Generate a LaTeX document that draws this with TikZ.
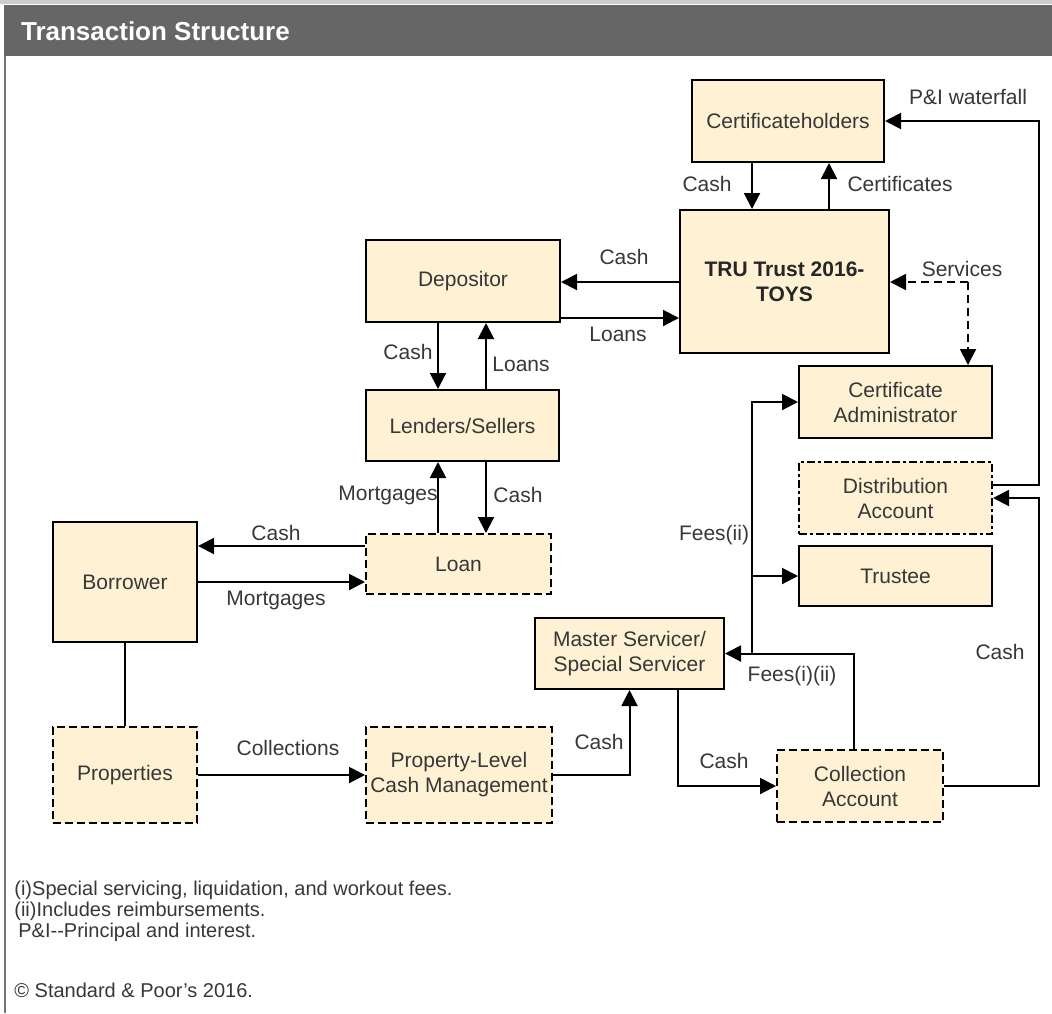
\documentclass[tikz,border=0pt]{standalone}
\usepackage{fontspec}
\setmainfont{Liberation Sans}
\usetikzlibrary{positioning,arrows.meta,calc}
\definecolor{boxfill}{RGB}{255,242,212}
\definecolor{headgray}{RGB}{102,102,102}
\definecolor{txtgray}{RGB}{55,55,55}

\begin{document}
\begin{tikzpicture}[x=0.5pt, y=-0.5pt,
        party/.style={
            rectangle, draw=black, line width=1pt, fill=boxfill,
            text=txtgray, font=\fontsize{10.5}{12.5}\selectfont,
            align=center, inner sep=2pt
          },
        account/.style={party, dash pattern=on 4pt off 2pt},
        acctdot/.style={party, dash pattern=on 4pt off 1.5pt on 1.5pt off 1.5pt},
        flow/.style={-{Triangle[length=8pt,width=8pt]}, line width=1pt, draw=black},
        servicelink/.style={flow, dash pattern=on 4pt off 2.5pt},
        plain/.style={line width=1pt, draw=black},
        tag/.style={font=\fontsize{10.5}{12.5}\selectfont, text=txtgray, inner sep=1pt},
        footnote/.style={font=\fontsize{10}{12}\selectfont, text=txtgray, anchor=west, inner sep=0pt},
      ]
      \useasboundingbox (0,0) rectangle (1052,1013);

      % Header bar and frame
      \fill[black!20] (0,0) rectangle (1052,4);
      \fill[headgray] (4,5) rectangle (1052,56);
      \draw[black!55, line width=1pt] (5,56) -- (5,1013);
      \node [font=\bfseries\fontsize{13}{15}\selectfont, text=white, anchor=west] (title) at (14,31) {Transaction Structure};

      % Trust and holders
      \node [party, minimum width=96pt, minimum height=41pt] (cert) at (788,121) {Certificateholders};
      \node [party, minimum width=104.5pt, minimum height=71.5pt, font=\bfseries\fontsize{10.5}{12.5}\selectfont, text=black!85] (trust) at (784.5,281.5) {TRU Trust 2016-\\TOYS};

      % Left chain
      \node [party, minimum width=97pt, minimum height=41pt] (depositor) at (463,281) {Depositor};
      \node [party, minimum width=96.5pt, minimum height=35.5pt] (lenders) at (462.5,425.5) {Lenders/Sellers};
      \node [account, minimum width=92.5pt, minimum height=30pt] (loan) at (458.5,564) {Loan};
      \node [party, minimum width=72pt, minimum height=60pt] (borrower) at (125,582) {Borrower};
      \node [account, minimum width=72pt, minimum height=48pt] (properties) at (125,775) {Properties};
      \node [account, minimum width=93pt, minimum height=48pt] (plcm) at (459,775) {Property-Level\\Cash Management};

      % Servicing and accounts
      \node [party, minimum width=94.5pt, minimum height=35.5pt] (servicer) at (629.5,653.5) {Master Servicer/\\Special Servicer};
      \node [account, minimum width=83pt, minimum height=36pt] (collection) at (860,786) {Collection\\Account};
      \node [party, minimum width=96.5pt, minimum height=36pt] (certadmin) at (895.5,402) {Certificate\\Administrator};
      \node [acctdot, minimum width=96.5pt, minimum height=36pt] (distrib) at (895.5,498) {Distribution\\Account};
      \node [party, minimum width=96.5pt, minimum height=30pt] (trustee) at (895.5,576) {Trustee};

      % Junctions
      \coordinate (railR) at (1039,0);
      \coordinate (feesplit) at (752,654);
      \coordinate (svc) at (968,282);

      % Relationships
      \draw [flow] (cert.south -| 752,0) -- (trust.north -| 752,0);
      \draw [flow] (trust.north -| 829,0) -- (cert.south -| 829,0);
      \draw [flow] (trust.west |- 0,282) -- (depositor.east |- 0,282);
      \draw [flow] (depositor.east |- 0,318) -- (trust.west |- 0,318);
      \draw [flow] (depositor.south -| 438,0) -- (lenders.north -| 438,0);
      \draw [flow] (lenders.north -| 486,0) -- (depositor.south -| 486,0);
      \draw [flow] (loan.north -| 438,0) -- (lenders.south -| 438,0);
      \draw [flow] (lenders.south -| 486,0) -- (loan.north -| 486,0);
      \draw [flow] (loan.west |- 0,546) -- (borrower.east |- 0,546);
      \draw [flow] (borrower.east |- 0,582) -- (loan.west |- 0,582);
      \draw [plain] (borrower) -- (properties);
      \draw [flow] (properties) -- (plcm);
      \draw [flow] (plcm.east) -| (servicer.south);
      \draw [flow] (servicer.south -| 678,0) |- (collection.west);
      \draw [flow] (collection.north -| 854,0) |- (servicer.east);
      \draw [flow] (feesplit) |- (certadmin.west);
      \draw [flow] (feesplit |- trustee.west) -- (trustee.west);
      \draw [flow] (collection.east) -| (railR |- distrib.east) -- (distrib.east);
      \draw [flow] (distrib.east |- 0,485) -| (railR |- cert.east) -- (cert.east);
      \draw [servicelink] (svc) -- (trust.east |- svc);
      \draw [servicelink] (svc) -- (svc |- certadmin.north);

      % Connector labels
      \node [tag] (l1) at (707,184) {Cash};
      \node [tag] (l2) at (900,184) {Certificates};
      \node [tag] (l3) at (624,257) {Cash};
      \node [tag] (l4) at (618,334) {Loans};
      \node [tag] (l5) at (408,352) {Cash};
      \node [tag] (l6) at (521,364) {Loans};
      \node [tag] (l7) at (388,495) {Mortgages};
      \node [tag] (l8) at (518,495) {Cash};
      \node [tag] (l9) at (276,533) {Cash};
      \node [tag] (l10) at (276,600) {Mortgages};
      \node [tag] (l11) at (288,748) {Collections};
      \node [tag] (l12) at (599,742) {Cash};
      \node [tag] (l13) at (724,761) {Cash};
      \node [tag] (l14) at (792,676) {Fees(i)(ii)};
      \node [tag] (l15) at (714,535) {Fees(ii)};
      \node [tag] (l16) at (1000,652) {Cash};
      \node [tag] (l17) at (968,97) {P\&I waterfall};
      \node [tag] (l18) at (962,269) {Services};

      % Footnotes
      \node [footnote] (n1) at (14,890) {(i)Special servicing, liquidation, and workout fees.};
      \node [footnote] (n2) at (14,911) {(ii)Includes reimbursements.};
      \node [footnote] (n3) at (18,932) {P\&I-{}-Principal and interest.};
      \node [footnote] (n4) at (14,990) {\copyright{} Standard \& Poor's 2016.};
    \end{tikzpicture}
\end{document}
